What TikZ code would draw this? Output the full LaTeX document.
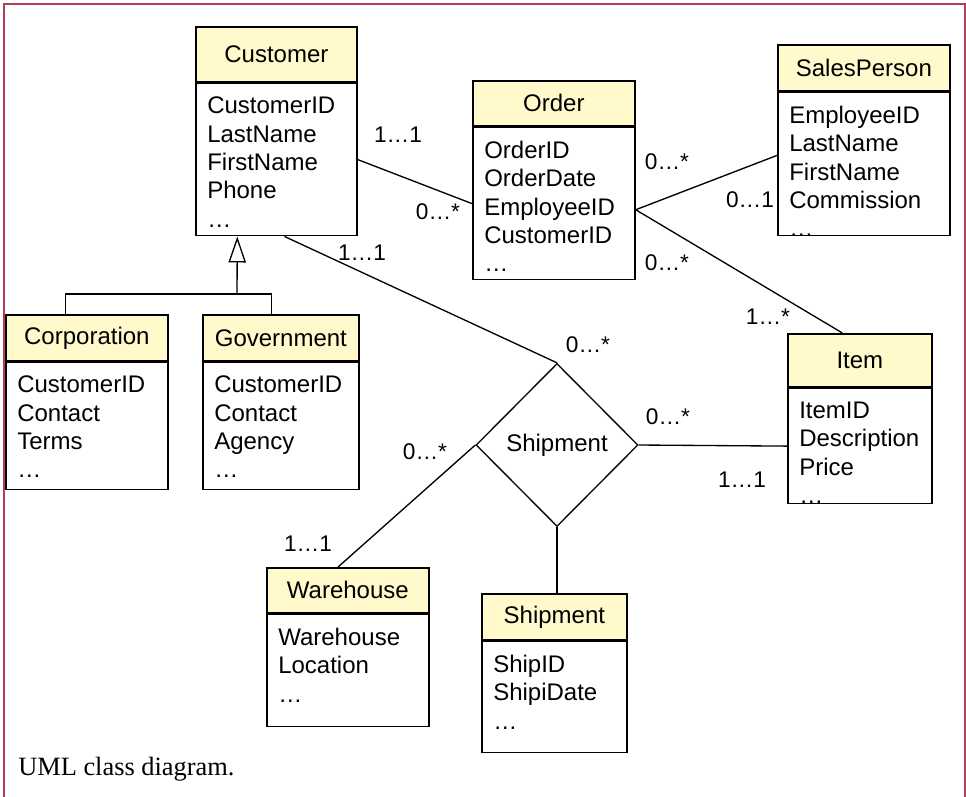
\documentclass[tikz,border=0pt]{standalone}
\usepackage{fontspec}
\usetikzlibrary{calc,shapes.geometric,arrows.meta}
\newfontfamily\umlsans{Liberation Sans}
\newfontfamily\capserif{Liberation Serif}
\newcommand\umlfont{\umlsans\fontsize{18}{21.25}\selectfont}
\definecolor{classyellow}{RGB}{255,249,204}
\definecolor{framered}{RGB}{180,62,88}
\tikzset{
  classhead/.style={draw, line width=1.3pt, fill=classyellow, anchor=north west, inner sep=0pt, font=\umlfont},
  classbody/.style={draw, line width=1.3pt, fill=white, anchor=north, inner sep=0pt},
  attrs/.style={anchor=north west, align=left, inner xsep=9pt, inner ysep=10.5pt, font=\umlfont},
  relation/.style={shape=diamond, draw, line width=1pt, inner sep=0pt, font=\umlfont},
  assoc/.style={line width=1pt},
  mult/.style={font=\umlsans\fontsize{17}{20}\selectfont, inner sep=0pt},
}

\begin{document}
\begin{tikzpicture}[x=0.75pt,y=-0.75pt]
	%%%%% FRAME %%%%%
	\useasboundingbox (0,0) rectangle (966,796);
	\fill[white] (0,0) rectangle (966,796);
	\draw[framered, line width=1.2pt] (4,800) -- (4,4) -- (965,4) -- (965,800);
	
	%%%%% CLASSES %%%%%
	\node[classhead, minimum width=120.75pt, minimum height=41.25pt] (cust) at (195,26) {Customer};
	\node[classbody, minimum width=120.75pt, minimum height=114pt] (custbody) at (cust.south) {};
	\node[attrs] (custattr) at (custbody.north west) {CustomerID\\LastName\\FirstName\\Phone\\…};
	
	\node[classhead, minimum width=121.5pt, minimum height=33.75pt] (order) at (472,80) {Order};
	\node[classbody, minimum width=121.5pt, minimum height=114pt] (orderbody) at (order.south) {};
	\node[attrs] (orderattr) at (orderbody.north west) {OrderID\\OrderDate\\EmployeeID\\CustomerID\\…};
	
	\node[classhead, minimum width=129pt, minimum height=34.5pt] (sales) at (777,44) {SalesPerson};
	\node[classbody, minimum width=129pt, minimum height=107.25pt] (salesbody) at (sales.south) {};
	\node[attrs] (salesattr) at (salesbody.north west) {EmployeeID\\LastName\\FirstName\\Commission\\…};
	
	\node[classhead, minimum width=108pt, minimum height=39.75pt] (item) at (787,333) {Item};
	\node[classbody, minimum width=108pt, minimum height=86.25pt] (itembody) at (item.south) {};
	\node[attrs] (itemattr) at (itembody.north west) {ItemID\\Description\\Price\\…};
	
	\node[classhead, minimum width=121.5pt, minimum height=34.5pt] (corp) at (5,314) {Corporation};
	\node[classbody, minimum width=121.5pt, minimum height=95.25pt] (corpbody) at (corp.south) {};
	\node[attrs] (corpattr) at (corpbody.north west) {CustomerID\\Contact\\Terms\\…};
	
	\node[classhead, minimum width=117pt, minimum height=34.5pt] (gov) at (202,314) {Government};
	\node[classbody, minimum width=117pt, minimum height=95.25pt] (govbody) at (gov.south) {};
	\node[attrs] (govattr) at (govbody.north west) {CustomerID\\Contact\\Agency\\…};
	
	\node[classhead, minimum width=121.5pt, minimum height=33.75pt] (ware) at (266,567) {Warehouse};
	\node[classbody, minimum width=121.5pt, minimum height=84pt] (warebody) at (ware.south) {};
	\node[attrs] (wareattr) at (warebody.north west) {Warehouse\\Location\\…};
	
	\node[classhead, minimum width=108.75pt, minimum height=34.5pt] (ship) at (481,593) {Shipment};
	\node[classbody, minimum width=108.75pt, minimum height=83.25pt] (shipbody) at (ship.south) {};
	\node[attrs] (shipattr) at (shipbody.north west) {ShipID\\ShipiDate\\…};
	
	\node[relation, minimum width=121.5pt, minimum height=122.25pt] (shipdia) at (557,445) {Shipment};
	
	%%%%% GENERALIZATION %%%%%
	\coordinate (genbar) at (237,294);
	\draw[line width=1pt, -{Triangle[open, length=19.5pt, width=13pt, line width=1pt]}]
		(genbar) -- ($(custbody.south west)!0.26!(custbody.south east)$);
	\draw[line width=1pt] ($(corp.north west)!0.37!(corp.north east)$) |- (genbar)
		-| ($(gov.north west)!0.44!(gov.north east)$);
	
	%%%%% ASSOCIATIONS %%%%%
	\coordinate (orderjoin) at ($(orderbody.north east)!0.54!(orderbody.south east)$);
	\draw[assoc] (custbody.east) -- (orderbody.west);
	\draw[assoc] (orderjoin) -- ($(salesbody.north west)!0.44!(salesbody.south west)$);
	\draw[assoc] (orderjoin) -- ($(item.north west)!0.38!(item.north east)$);
	\draw[assoc] ($(custbody.south west)!0.55!(custbody.south east)$) -- (shipdia.north);
	\draw[assoc] (shipdia.east) -- (itembody.west);
	\draw[assoc] (shipdia.west) -- ($(ware.north west)!0.44!(ware.north east)$);
	\draw[assoc] (shipdia.south) -- (shipdia.south |- ship.north);
	
	%%%%% MULTIPLICITIES %%%%%
	\node[mult] (m1) at (398,135) {1…1};
	\node[mult] (m2) at (438,212) {0…*};
	\node[mult] (m3) at (667,162) {0…*};
	\node[mult] (m4) at (750,200) {0…1};
	\node[mult] (m5) at (667,263) {0…*};
	\node[mult] (m6) at (768,317) {1…*};
	\node[mult] (m7) at (362,253) {1…1};
	\node[mult] (m8) at (588,345) {0…*};
	\node[mult] (m9) at (668,417) {0…*};
	\node[mult] (m10) at (742,480) {1…1};
	\node[mult] (m11) at (425,452) {0…*};
	\node[mult] (m12) at (308,544) {1…1};
	
	\node[anchor=base west, inner sep=0pt, font=\capserif\fontsize{19.8}{24}\selectfont] (caption) at (18,775) {UML class diagram.};
\end{tikzpicture}
\end{document}
